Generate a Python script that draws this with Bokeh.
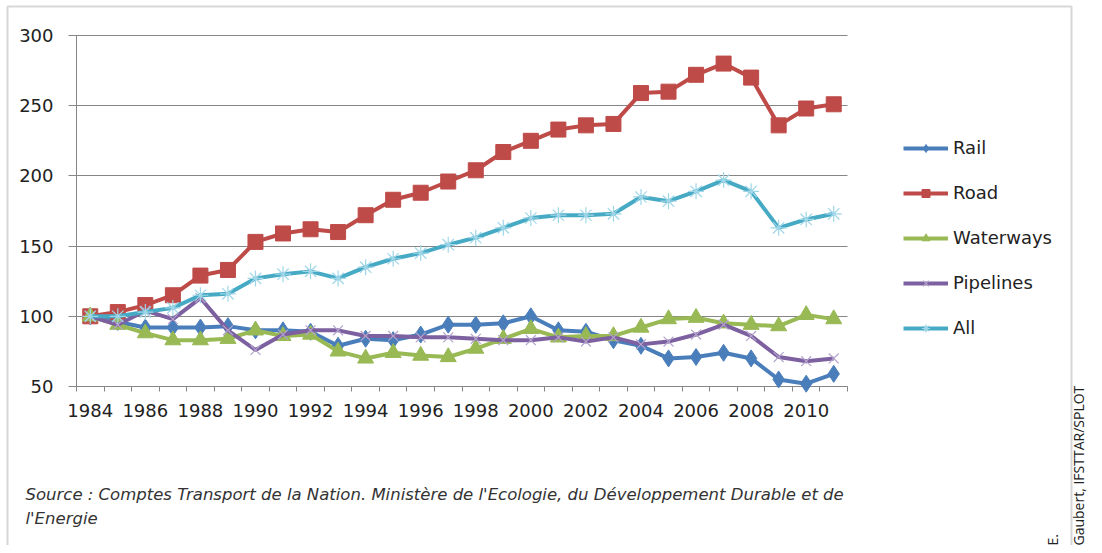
import math
from bokeh.plotting import figure
from bokeh.models import (Range1d, FixedTicker, Legend, LegendItem, Label,
                          BoxAnnotation, LinearAxis)
from bokeh.embed import file_html
from bokeh.resources import INLINE

# ---------------- data ----------------
years = list(range(1984, 2012))
label_years = years[::2]
y_ticks = [50, 100, 150, 200, 250, 300]

rail = [100, 96, 92, 92, 92, 93, 90, 90, 89, 79, 84, 83, 87, 94,
        94, 95, 100, 90, 89, 83, 79, 70, 71, 74, 70, 55, 52, 59]
road = [100, 103, 108, 115, 129, 133, 153, 159, 162, 160, 172, 183, 188, 196,
        204, 217, 225, 233, 236, 237, 259, 260, 272, 280, 270, 236, 248, 251]
waterways = [100, 94, 88, 83, 83, 84, 90, 86, 87, 75, 70, 74, 72, 71,
             77, 84, 91, 85, 86, 86, 92, 98, 99, 95, 94, 93, 101, 98]
pipelines = [100, 94, 104, 98, 113, 90, 76, 87, 90, 90, 86, 86, 85, 85,
             84, 83, 83, 85, 82, 85, 80, 82, 87, 94, 86, 71, 68, 70]
all_modes = [100, 100, 103, 106, 115, 116, 127, 130, 132, 127, 135, 141, 145, 151,
             156, 163, 170, 172, 172, 173, 185, 182, 189, 197, 189, 163, 169, 173]

series_names = ["Rail", "Road", "Waterways", "Pipelines", "All"]
source_line1 = ("Source :  Comptes Transport de la Nation. Ministère de l'Ecologie, "
                "du Développement Durable et de")
source_line2 = "l'Energie"
credit = "Gaubert, IFSTTAR/SPLOT"

# ---------------- layout (pixels) ----------------
W, H = 1094, 545
PL, PR, PT, PB = 76, 847, 35, 386          # plot area box
x0, x1 = years[0] - 0.5, years[-1] + 0.5
y0, y1 = y_ticks[0], y_ticks[-1]
kx = (PR - PL) / (x1 - x0)
ky = (PB - PT) / (y1 - y0)

TICK_FONT = "DejaVu Sans"
GRID = "#868686"

p = figure(width=W, height=H, output_backend="svg", toolbar_location=None,
           x_range=Range1d(x0 - PL / kx, x1 + (W - PR) / kx),
           y_range=Range1d(y0 - (H - PB) / ky, y1 + PT / ky),
           x_axis_type=None, y_axis_type=None,
           min_border=0)
p.outline_line_color = None
p.background_fill_color = "white"
p.border_fill_color = "white"
p.grid.visible = False

yaxis = LinearAxis(fixed_location=x0, bounds=(y0, y1),
                   ticker=FixedTicker(ticks=y_ticks, minor_ticks=[]),
                   axis_line_color=GRID, major_tick_line_color=GRID,
                   major_tick_in=PR - PL, major_tick_out=8,
                   minor_tick_line_color=None,
                   major_label_standoff=15,
                   major_label_text_font=TICK_FONT,
                   major_label_text_font_size="18px",
                   major_label_text_color="#222222",
                   level="underlay")
p.add_layout(yaxis, "left")

xaxis = LinearAxis(fixed_location=y0, bounds=(x0, x1),
                   ticker=FixedTicker(ticks=label_years,
                                      minor_ticks=[y - 0.5 for y in years] + [x1]),
                   axis_line_color=GRID,
                   major_tick_line_color=None, major_tick_in=0, major_tick_out=0,
                   minor_tick_line_color=GRID, minor_tick_in=0, minor_tick_out=5,
                   major_label_standoff=12,
                   major_label_text_font=TICK_FONT,
                   major_label_text_font_size="18px",
                   major_label_text_color="#222222",
                   level="underlay")
p.add_layout(xaxis, "below")

items = []

def add_series(name, vals, color, marker, size, mcolor=None, mfill=True, mwidth=1):
    r1 = p.line(years, vals, line_color=color, line_width=4)
    if mfill:
        r2 = p.scatter(years, vals, marker=marker, size=size, fill_color=color,
                       line_color=color, line_width=mwidth)
    else:
        r2 = p.scatter(years, vals, marker=marker, size=size,
                       line_color=mcolor, line_width=mwidth, fill_color=None)
    items.append(LegendItem(label=name, renderers=[r1, r2]))

add_series(series_names[0], rail, "#4A7EBB", "diamond", 17)
add_series(series_names[1], road, "#BE4B48", "square", 15)
add_series(series_names[2], waterways, "#98B954", "triangle", 16)
add_series(series_names[3], pipelines, "#7D60A0", "x", 14, mcolor="#B3A3CC", mfill=False, mwidth=1.2)
add_series(series_names[4], all_modes, "#46AAC5", "asterisk", 16, mcolor="#9FD6E8", mfill=False, mwidth=1.2)

legend = Legend(items=items, location=(903, H - 338), orientation="vertical",
                glyph_width=45, glyph_height=20, label_height=20, spacing=24,
                label_standoff=5, padding=0, margin=0,
                border_line_color=None, background_fill_alpha=0,
                label_text_font=TICK_FONT, label_text_font_size="18px",
                label_text_color="#222222")
p.add_layout(legend, "center")

SRC_FONT = "DejaVu Sans"
p.add_layout(Label(x=25, y=H - 494, x_units="screen", y_units="screen",
                   text=source_line1, text_font=SRC_FONT, text_font_style="italic",
                   text_font_size="16.5px", text_color="#333333",
                   text_baseline="middle", text_align="left"))
p.add_layout(Label(x=25, y=H - 518, x_units="screen", y_units="screen",
                   text=source_line2, text_font=SRC_FONT, text_font_style="italic",
                   text_font_size="16.5px", text_color="#333333",
                   text_baseline="middle", text_align="left"))

p.add_layout(Label(x=1078, y=0, x_units="screen", y_units="screen",
                   text=credit, angle=math.pi / 2, text_font="Open Sans",
                   text_font_size="14px", text_color="#222222",
                   text_baseline="middle", text_align="left"))
p.add_layout(Label(x=1052, y=0, x_units="screen", y_units="screen",
                   text="E.", angle=math.pi / 2, text_font="Open Sans",
                   text_font_size="14px", text_color="#222222",
                   text_baseline="middle", text_align="left"))

p.add_layout(BoxAnnotation(left=7, right=1071, top=H - 6, bottom=-20,
                           left_units="screen", right_units="screen",
                           top_units="screen", bottom_units="screen",
                           fill_color=None, line_color="#7a7a7a", line_width=2))

open("out.html", "w").write(file_html(p, INLINE))
